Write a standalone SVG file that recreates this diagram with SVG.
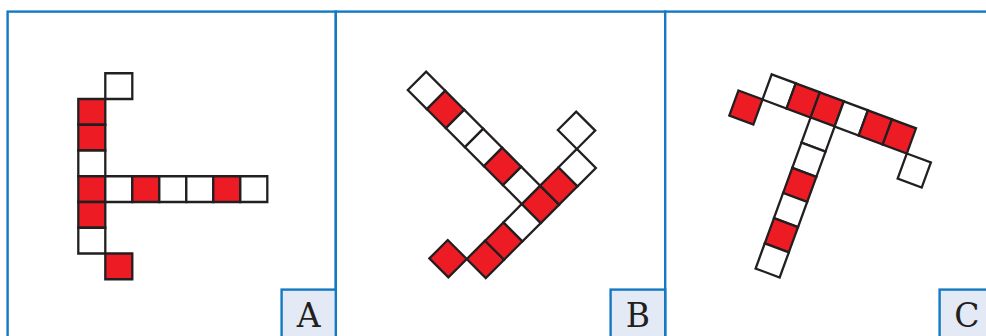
<svg xmlns="http://www.w3.org/2000/svg" width="986" height="336" viewBox="0 0 986 336">
  <style>
    .frame { fill: #ffffff; stroke: #1479c2; stroke-width: 2.4; }
    .tag { fill: #e4e9f6; stroke: #1479c2; stroke-width: 2.4; }
    .lbl { font-family: "DejaVu Serif", "Liberation Serif", serif; font-size: 33px; fill: #231f20; text-anchor: middle; }
    .w, .r { stroke: #231f20; stroke-width: 2.3; vector-effect: non-scaling-stroke; stroke-linejoin: miter; }
    .w { fill: #ffffff; }
    .r { fill: #ed1c24; }
  </style>
  <rect width="986" height="336" fill="#ffffff"/>

  <!-- panel frames -->
  <g id="frames">
    <rect class="frame" x="7.6" y="11.6" width="328.2" height="340"/>
    <rect class="frame" x="335.8" y="11.6" width="329.4" height="340"/>
    <rect class="frame" x="665.2" y="11.6" width="340" height="340"/>
  </g>

  <!-- panel A -->
  <g id="panelA" transform="matrix(27 0 0 25.75 78.3 99)">
    <rect class="w" x="1" y="-1" width="1" height="1"/>
    <rect class="r" x="0" y="0" width="1" height="1"/>
    <rect class="r" x="0" y="1" width="1" height="1"/>
    <rect class="w" x="0" y="2" width="1" height="1"/>
    <rect class="r" x="0" y="3" width="1" height="1"/>
    <rect class="r" x="0" y="4" width="1" height="1"/>
    <rect class="w" x="0" y="5" width="1" height="1"/>
    <rect class="r" x="1" y="6" width="1" height="1"/>
    <rect class="w" x="1" y="3" width="1" height="1"/>
    <rect class="r" x="2" y="3" width="1" height="1"/>
    <rect class="w" x="3" y="3" width="1" height="1"/>
    <rect class="w" x="4" y="3" width="1" height="1"/>
    <rect class="r" x="5" y="3" width="1" height="1"/>
    <rect class="w" x="6" y="3" width="1" height="1"/>
  </g>

  <!-- panel B -->
  <g id="panelB" transform="matrix(18.35 -18.35 19 19 521.8 204)">
    <rect class="r" x="-4" y="-1" width="1" height="1"/>
    <rect class="r" x="-3" y="0" width="1" height="1"/>
    <rect class="r" x="-2" y="0" width="1" height="1"/>
    <rect class="w" x="-1" y="0" width="1" height="1"/>
    <rect class="r" x="0" y="0" width="1" height="1"/>
    <rect class="r" x="1" y="0" width="1" height="1"/>
    <rect class="w" x="2" y="0" width="1" height="1"/>
    <rect class="w" x="3" y="-1" width="1" height="1"/>
    <rect class="w" x="0" y="-1" width="1" height="1"/>
    <rect class="r" x="0" y="-2" width="1" height="1"/>
    <rect class="w" x="0" y="-3" width="1" height="1"/>
    <rect class="w" x="0" y="-4" width="1" height="1"/>
    <rect class="r" x="0" y="-5" width="1" height="1"/>
    <rect class="w" x="0" y="-6" width="1" height="1"/>
  </g>

  <!-- panel C -->
  <g id="panelC" transform="matrix(24.05 9 -9.17 25.17 771.7 74.3)">
    <rect class="r" x="-1" y="1" width="1" height="1"/>
    <rect class="w" x="0" y="0" width="1" height="1"/>
    <rect class="r" x="1" y="0" width="1" height="1"/>
    <rect class="r" x="2" y="0" width="1" height="1"/>
    <rect class="w" x="3" y="0" width="1" height="1"/>
    <rect class="r" x="4" y="0" width="1" height="1"/>
    <rect class="r" x="5" y="0" width="1" height="1"/>
    <rect class="w" x="6" y="1" width="1" height="1"/>
    <rect class="w" x="2" y="1" width="1" height="1"/>
    <rect class="w" x="2" y="2" width="1" height="1"/>
    <rect class="r" x="2" y="3" width="1" height="1"/>
    <rect class="w" x="2" y="4" width="1" height="1"/>
    <rect class="r" x="2" y="5" width="1" height="1"/>
    <rect class="w" x="2" y="6" width="1" height="1"/>
  </g>

  <!-- labels -->
  <g id="labelA">
    <rect class="tag" x="281.6" y="289.6" width="54.2" height="60"/>
    <text class="lbl" x="308.7" y="326.5">A</text>
  </g>
  <g id="labelB">
    <rect class="tag" x="610.6" y="289.6" width="54.6" height="60"/>
    <text class="lbl" x="637.9" y="326.5">B</text>
  </g>
  <g id="labelC">
    <rect class="tag" x="939.6" y="289.6" width="60" height="60"/>
    <text class="lbl" x="966.8" y="326.5">C</text>
  </g>
</svg>
